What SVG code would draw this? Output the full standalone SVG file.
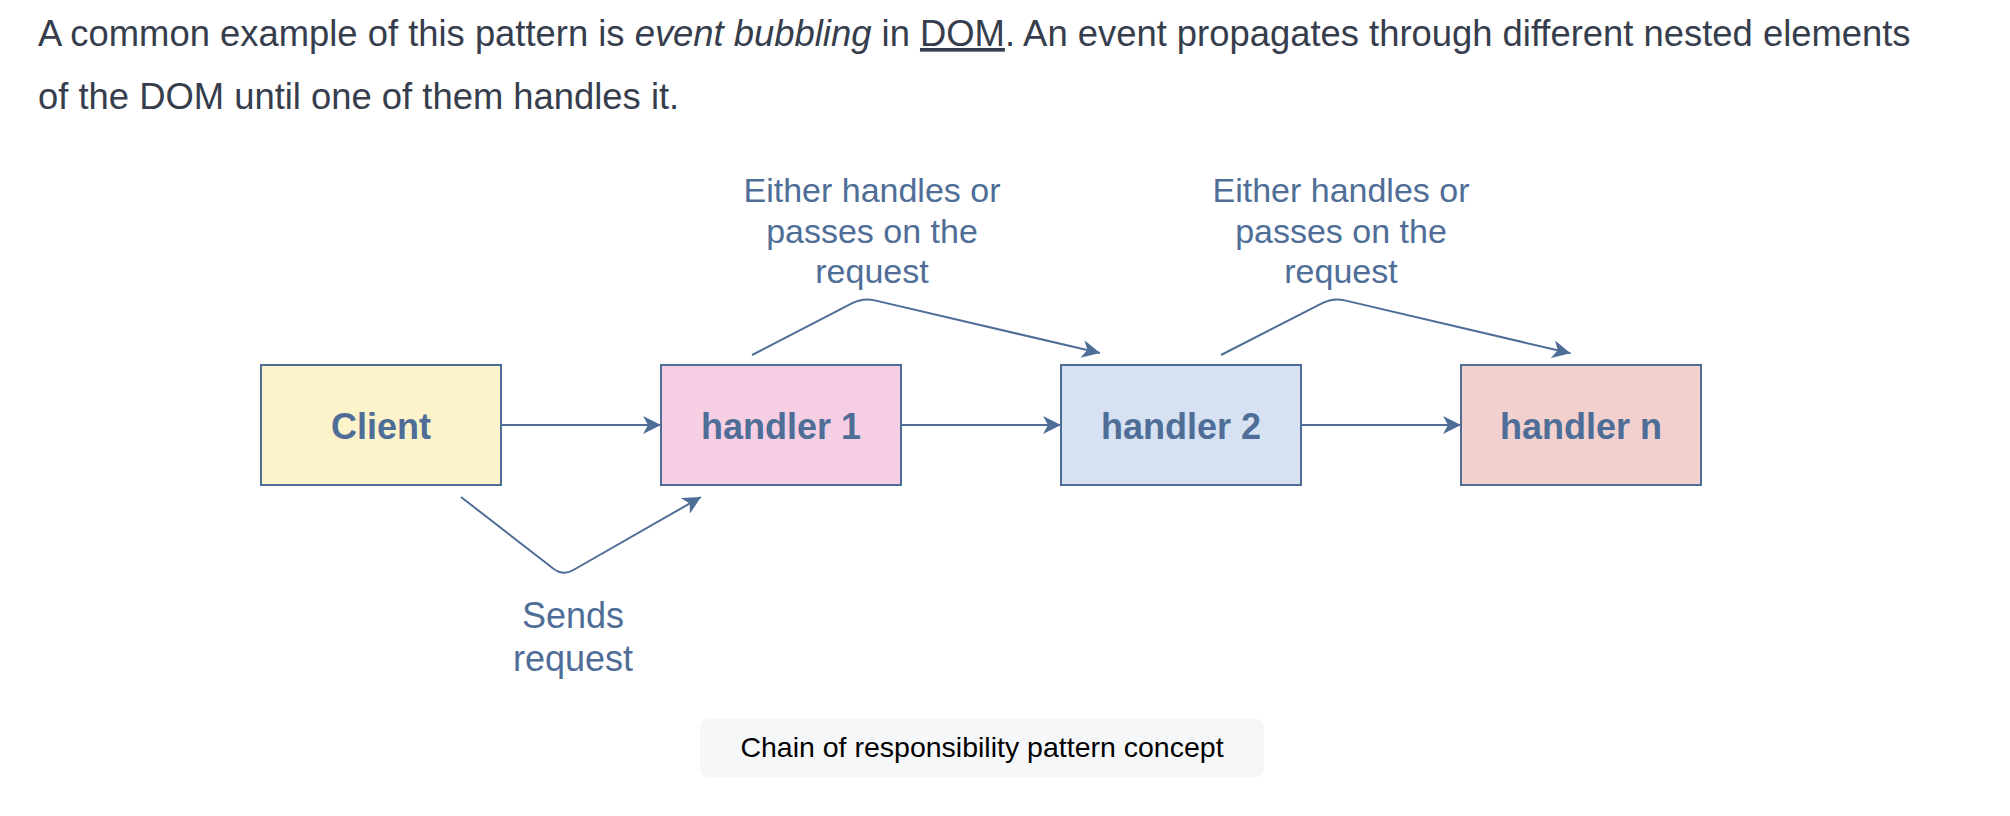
<svg xmlns="http://www.w3.org/2000/svg" width="2010" height="816" viewBox="0 0 2010 816">
<style>
.para{font-family:"Liberation Sans",Arial,Helvetica,sans-serif;font-size:36.4px;fill:#363d4c}
.box{stroke:#4f6e97;stroke-width:2}
.blabel{font-family:"Liberation Sans",Arial,Helvetica,sans-serif;font-size:36px;font-weight:bold;fill:#4f6e97;text-anchor:middle}
.elabel{font-family:"Liberation Sans",Arial,Helvetica,sans-serif;font-size:34px;fill:#4f6e97;text-anchor:middle}
.slabel{font-family:"Liberation Sans",Arial,Helvetica,sans-serif;font-size:36px;fill:#4f6e97;text-anchor:middle}
.edge{fill:none;stroke:#4f6e97;stroke-width:2}
.cap{font-family:"Liberation Sans",Arial,Helvetica,sans-serif;font-size:28.5px;fill:#000;text-anchor:middle}
</style>
<defs>
<marker id="arr" viewBox="0 0 18 18" refX="18" refY="9" markerWidth="18" markerHeight="18" markerUnits="userSpaceOnUse" orient="auto">
<path d="M0,0 L18,9 L0,18 L5,9 Z" fill="#4f6e97"/>
</marker>
</defs>
<rect width="2010" height="816" fill="#ffffff"/>
<g id="intro">
<text class="para" x="38" y="46">A common example of this pattern is <tspan font-style="italic">event bubbling</tspan> in <tspan text-decoration="underline">DOM</tspan>. An event propagates through different nested elements</text>
<text class="para" x="38" y="109">of the DOM until one of them handles it.</text>
</g>
<g id="client">
<rect class="box" x="261" y="365" width="240" height="120" fill="#fdf3ca"/>
<text class="blabel" x="381" y="439">Client</text>
</g>
<g id="handler1">
<rect class="box" x="661" y="365" width="240" height="120" fill="#f6cfe4"/>
<text class="blabel" x="781" y="439">handler 1</text>
</g>
<g id="handler2">
<rect class="box" x="1061" y="365" width="240" height="120" fill="#d6e1f2"/>
<text class="blabel" x="1181" y="439">handler 2</text>
</g>
<g id="handlern">
<rect class="box" x="1461" y="365" width="240" height="120" fill="#f2d0cd"/>
<text class="blabel" x="1581" y="439">handler n</text>
</g>
<g id="connectors">
<path class="edge" d="M501,425 L661,425" marker-end="url(#arr)"/>
<path class="edge" d="M901,425 L1061,425" marker-end="url(#arr)"/>
<path class="edge" d="M1301,425 L1461,425" marker-end="url(#arr)"/>
<path class="edge" d="M752,355 L852.3,303.2 Q863,297.7 874.7,300.4 L1100,353" marker-end="url(#arr)"/>
<path class="edge" d="M1221,355 L1322.3,303.2 Q1333,297.7 1344.7,300.4 L1570.5,353.3" marker-end="url(#arr)"/>
<path class="edge" d="M461,497 L553.5,568.7 Q563,576 573.4,570 L701,497" marker-end="url(#arr)"/>
</g>
<g id="label-pass1">
<text class="elabel" x="872" y="202">Either handles or</text>
<text class="elabel" x="872" y="242.5">passes on the</text>
<text class="elabel" x="872" y="283">request</text>
</g>
<g id="label-pass2">
<text class="elabel" x="1341" y="202">Either handles or</text>
<text class="elabel" x="1341" y="242.5">passes on the</text>
<text class="elabel" x="1341" y="283">request</text>
</g>
<g id="label-sends">
<text class="slabel" x="573" y="628">Sends</text>
<text class="slabel" x="573" y="671">request</text>
</g>
<g id="caption">
<rect x="700" y="719" width="564" height="58" rx="8" fill="#f6f7f9"/>
<text class="cap" x="982" y="757">Chain of responsibility pattern concept</text>
</g>
</svg>
